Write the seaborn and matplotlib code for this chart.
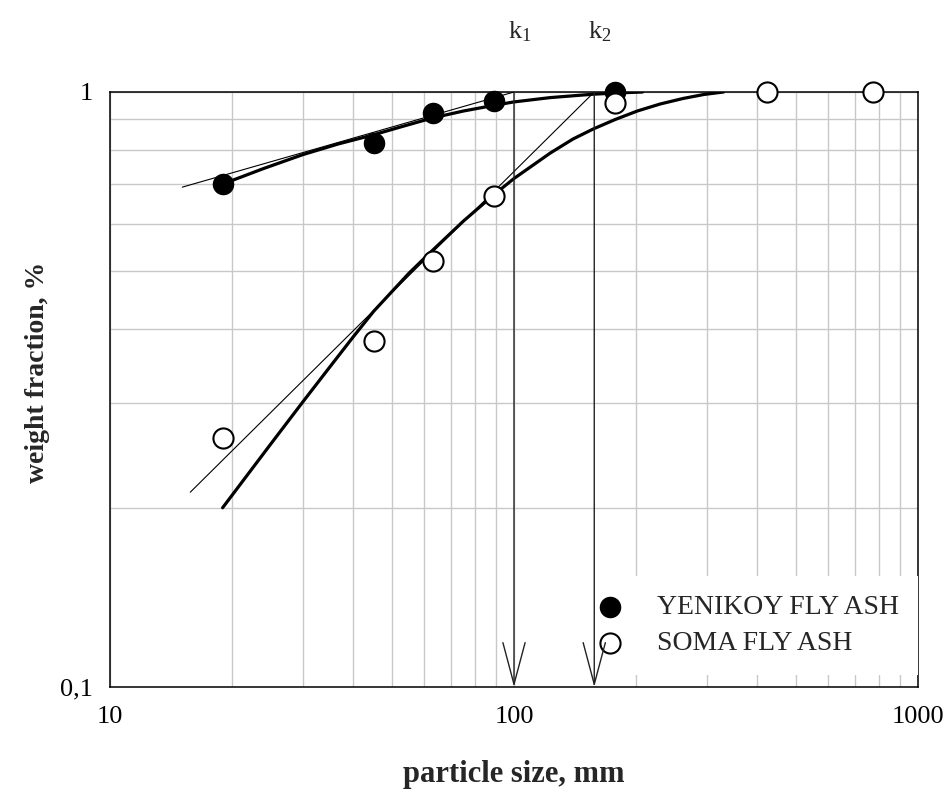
import numpy as np
import pandas as pd
import matplotlib
matplotlib.use("Agg")
import matplotlib.pyplot as plt
import matplotlib.transforms as mtransforms
from matplotlib.ticker import FixedLocator, NullFormatter
import seaborn as sns

# ---------------- data ----------------
yenikoy_x = [19, 45, 63, 89, 178]
yenikoy_y = [0.70, 0.822, 0.921, 0.965, 1.0]

soma_x = [19, 45, 63, 89, 178, 423, 773]
soma_y = [0.262, 0.3815, 0.520, 0.669, 0.96, 1.0, 1.0]

# fitted (thick) curves
yenikoy_curve_x = [19, 24, 30, 36.7, 44.7, 53.1, 62.8, 75, 88.8, 100, 123, 157, 183, 208]
yenikoy_curve_y = [0.7003, 0.7437, 0.7847, 0.8177, 0.8467, 0.8757, 0.9044, 0.9291,
                   0.9491, 0.9624, 0.9786, 0.9915, 0.9967, 1.0]

soma_curve_x = [19, 25, 30, 35, 40, 45, 55, 63, 75, 89, 100, 123, 140, 157, 178,
                202, 230, 262, 295, 330]
soma_curve_y = [0.2001, 0.2561, 0.3013, 0.3450, 0.3877, 0.4284, 0.4963, 0.5427, 0.6070,
                0.6712, 0.7155, 0.7897, 0.8337, 0.8665, 0.8990, 0.9291, 0.9546, 0.9752,
                0.9904, 1.0]

# straight (thin) tangent lines
yenikoy_tangent_x = [15.1, 100]
yenikoy_tangent_y = [0.692, 1.0]
soma_tangent_x = [15.8, 158]
soma_tangent_y = [0.2125, 1.0]

# characteristic sizes
k_values = [100, 158]
k_labels = [r"k$_\mathregular{1}$", r"k$_\mathregular{2}$"]

series_names = ["YENIKOY FLY ASH", "SOMA FLY ASH"]
x_ticks = [10, 100, 1000]
x_ticklabels = ["10", "100", "1000"]
y_ticks = [0.1, 1]
y_ticklabels = ["0,1", "1"]

# ---------------- style ----------------
sns.set_theme(style="white")
plt.rcParams["font.family"] = ["Liberation Serif", "DejaVu Serif"]
plt.rcParams["mathtext.fontset"] = "custom"
plt.rcParams["mathtext.rm"] = "Liberation Serif"
plt.rcParams["mathtext.it"] = "Liberation Serif:italic"
plt.rcParams["mathtext.bf"] = "Liberation Serif:bold"

fig = plt.figure(figsize=(9.49, 7.92), dpi=100)
ax = fig.add_axes([110 / 949, 1 - 687 / 792, (918 - 110) / 949, (687 - 92) / 792])
ax.set_xscale("log")
ax.set_yscale("log")
ax.set_xlim(10, 1000)
ax.set_ylim(0.1, 1)

# grid
ax.xaxis.set_major_locator(FixedLocator(x_ticks))
ax.xaxis.set_minor_locator(FixedLocator([m * d for d in (10, 100) for m in range(2, 10)]))
ax.yaxis.set_major_locator(FixedLocator(y_ticks))
ax.yaxis.set_minor_locator(FixedLocator([m / 10 for m in range(2, 10)]))
ax.xaxis.set_minor_formatter(NullFormatter())
ax.yaxis.set_minor_formatter(NullFormatter())
ax.set_xticklabels(x_ticklabels)
ax.set_yticklabels(y_ticklabels)
ax.grid(True, which="both", color="#c8c8c8", lw=1.0)
ax.set_axisbelow(True)
ax.tick_params(which="both", length=0, labelsize=19, colors="black")
ax.tick_params(axis="y", pad=12)
ax.tick_params(axis="x", pad=14)
for s in ax.spines.values():
    s.set_color("black")
    s.set_linewidth(1.1)
    s.set_visible(True)

# thin tangent lines
sns.lineplot(x=yenikoy_tangent_x, y=yenikoy_tangent_y, ax=ax, color="black", lw=0.8,
             sort=False, estimator=None, zorder=3)
sns.lineplot(x=soma_tangent_x, y=soma_tangent_y, ax=ax, color="black", lw=0.8,
             sort=False, estimator=None, zorder=3)

# thick curves
sns.lineplot(x=yenikoy_curve_x, y=yenikoy_curve_y, ax=ax, color="black", lw=2.3,
             sort=False, estimator=None, zorder=4)
sns.lineplot(x=soma_curve_x, y=soma_curve_y, ax=ax, color="black", lw=2.3,
             sort=False, estimator=None, zorder=4)

# arrows k1, k2
text_off = mtransforms.offset_copy(ax.get_xaxis_transform(), fig=fig, x=6, y=0, units="dots")
for k, lab in zip(k_values, k_labels):
    ax.annotate("", xy=(k, 0.1), xytext=(k, 1.0), xycoords="data", textcoords="data",
                arrowprops=dict(arrowstyle="->,head_length=3.0,head_width=0.8",
                                color="#222222", lw=1.0, shrinkA=0, shrinkB=0,
                                mutation_scale=10),
                annotation_clip=False, zorder=8)
    ax.text(k, 1.0908, lab, transform=text_off, ha="center", va="baseline", fontsize=19)

# data points
df_y = pd.DataFrame({"x": yenikoy_x, "y": yenikoy_y})
df_s = pd.DataFrame({"x": soma_x, "y": soma_y})
sns.scatterplot(data=df_y, x="x", y="y", ax=ax, s=210, color="black", edgecolor="black",
                linewidth=1.0, label=series_names[0], zorder=6, clip_on=False)
sns.scatterplot(data=df_s, x="x", y="y", ax=ax, s=210, facecolor="white", edgecolor="black",
                linewidth=1.5, label=series_names[1], zorder=7, clip_on=False)

ax.set_xlabel("particle size, mm", fontsize=22, fontweight="bold", labelpad=23)
ax.set_ylabel("weight fraction, %", fontsize=20, fontweight="bold")
ax.yaxis.set_label_coords((50 - 110) / 808, (687 - 372) / 595)

leg = ax.legend(loc="lower right", bbox_to_anchor=(1.0, 0.0202), borderaxespad=0,
                fontsize=20, frameon=True, facecolor="white", edgecolor="none",
                framealpha=1.0, fancybox=False, labelspacing=0.385, handletextpad=1.19,
                handlelength=1.0, borderpad=0.68, markerscale=1.0)
leg.set_zorder(5)

fig.savefig("out.png", dpi=100)
